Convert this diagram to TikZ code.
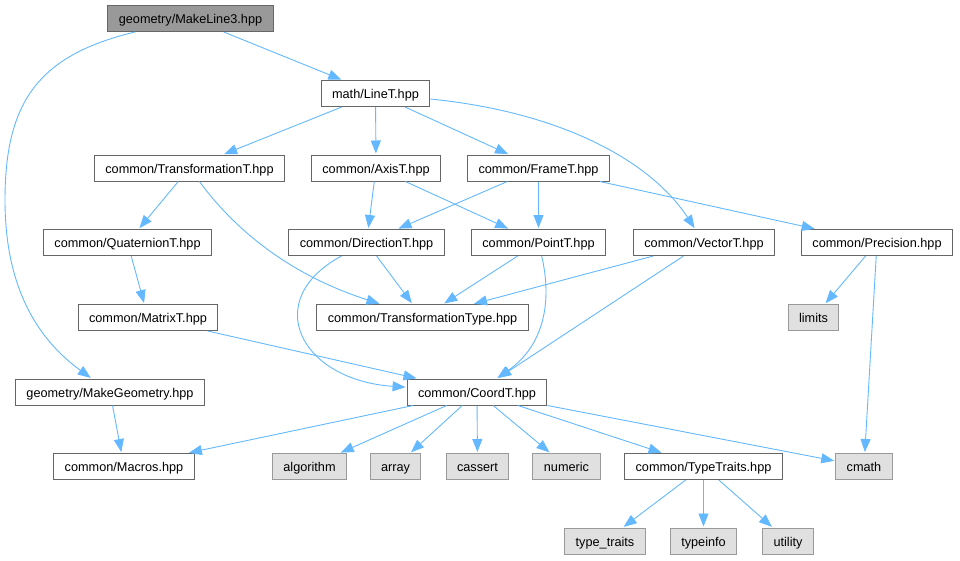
\documentclass[tikz,border=0pt]{standalone}
\usepackage{fontspec}
\setmainfont{Liberation Sans}
\usepackage{tikz}
\usetikzlibrary{arrows.meta}

\definecolor{edgeblue}{HTML}{63B8FF}
\definecolor{boxline}{HTML}{666666}
\definecolor{sysline}{HTML}{999999}
\definecolor{sysfill}{HTML}{E0E0E0}
\definecolor{rootfill}{HTML}{999999}

\begin{document}
\begin{tikzpicture}[x=1pt,y=-1pt,
                    dep/.style={-{Triangle[length=13pt,width=10pt]},shorten >=1pt,
                      draw=edgeblue,line width=0.9pt},
                    every edge/.style={dep},
                    file node/.style={rectangle,draw=boxline,fill=white,line width=1pt,
                      minimum height=26pt,inner xsep=11pt,inner ysep=0pt,
                      text height=12pt,text depth=2pt,
                      font=\fontsize{12.7}{15}\selectfont},
                    root node/.style={file node,fill=rootfill},
                    sys node/.style={file node,draw=sysline,fill=sysfill}]

  \useasboundingbox (0,0) rectangle (960,560);

  \node[root node] (ml3) at (190.5,18.5) {geometry/MakeLine3.hpp};
  \node[file node] (linet) at (375.5,93.5) {math/LineT.hpp};

  \node[file node] (trafo) at (189.5,168) {common/TransformationT.hpp};
  \node[file node] (axis) at (376,168) {common/AxisT.hpp};
  \node[file node] (frame) at (538.5,168) {common/FrameT.hpp};

  \node[file node] (quat) at (127.5,242.5) {common/QuaternionT.hpp};
  \node[file node] (dir) at (366.5,242.5) {common/DirectionT.hpp};
  \node[file node] (point) at (538.5,242.5) {common/PointT.hpp};
  \node[file node] (vec) at (704,242.5) {common/VectorT.hpp};
  \node[file node] (prec) at (877,242.5) {common/Precision.hpp};

  \node[file node] (matrix) at (148,317.5) {common/MatrixT.hpp};
  \node[file node] (ttype) at (422.5,317.5) {common/TransformationType.hpp};
  \node[sys node] (limits) at (813.5,317.5) {limits};

  \node[file node] (mgeo) at (110,392) {geometry/MakeGeometry.hpp};
  \node[file node] (coord) at (477,392) {common/CoordT.hpp};

  \node[file node] (macros) at (124,466.5) {common/Macros.hpp};
  \node[sys node] (algo) at (309.5,466.5) {algorithm};
  \node[sys node] (array) at (395.5,466.5) {array};
  \node[sys node] (cassert) at (477.5,466.5) {cassert};
  \node[sys node] (numeric) at (566.5,466.5) {numeric};
  \node[file node] (ttraits) at (703.5,466.5) {common/TypeTraits.hpp};
  \node[sys node] (cmath) at (864,466.5) {cmath};

  \node[sys node] (typetr) at (605,541) {type\_traits};
  \node[sys node] (typeinfo) at (703.5,541) {typeinfo};
  \node[sys node] (utility) at (788,541) {utility};

  \path
    (ml3) edge (linet)
    (linet) edge (trafo)
            edge (axis)
            edge (frame)
    (trafo) edge (quat)
    (axis) edge (dir)
           edge (point)
    (frame) edge (dir)
            edge (point)
            edge (prec)
    (quat) edge (matrix)
    (dir) edge (ttype)
    (point) edge (ttype)
    (vec) edge (ttype)
          edge (coord)
    (prec) edge (limits)
           edge (cmath)
    (matrix) edge (coord)
    (mgeo) edge (macros)
    (coord) edge (macros)
            edge (algo)
            edge (array)
            edge (cassert)
            edge (numeric)
            edge (ttraits)
            edge (cmath)
    (ttraits) edge (typetr)
              edge (typeinfo)
              edge (utility)
;

  % curved includes
  \draw[dep] (ml3) .. controls (40,55) and (5,100) .. (5,200)
    .. controls (5,280) and (32,335) .. (mgeo);
  \draw[dep] (linet) .. controls (560,112) and (650,160) .. (vec);
  \draw[dep] (trafo) .. controls (235,230) and (290,275) .. (ttype);
  \draw[dep] (dir) .. controls (260,300) and (300,380) .. (coord);
  \draw[dep] (point) .. controls (552,300) and (545,345) .. (coord);
\end{tikzpicture}
\end{document}
